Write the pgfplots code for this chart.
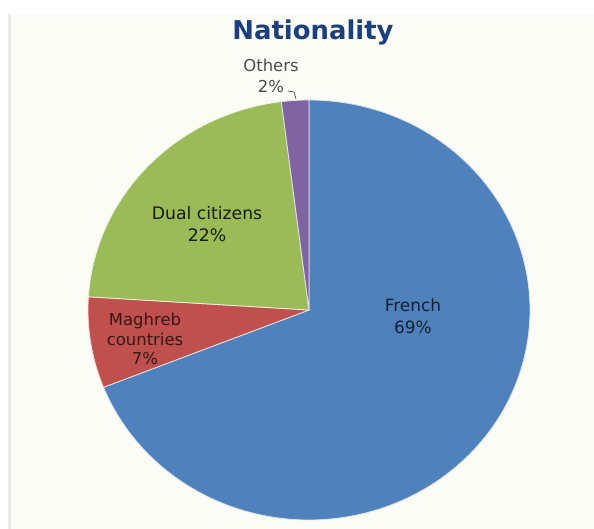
\documentclass[border=0pt]{standalone}
\usepackage{pgfplots}
\pgfplotsset{compat=1.18}
\usepackage{fontspec}
\setmainfont{DejaVu Sans}
\definecolor{cFrench}{HTML}{4F81BD}
\definecolor{cMaghreb}{HTML}{C0504D}
\definecolor{cDual}{HTML}{9BBB59}
\definecolor{cOther}{HTML}{8064A2}
\definecolor{bgc}{HTML}{FCFCF6}
\definecolor{titlec}{HTML}{1C3F7E}
\begin{document}
\begin{tikzpicture}
\begin{axis}[
  scale only axis, width=594bp, height=529bp,
  xmin=0, xmax=594, ymin=0, ymax=529,
  axis lines=none, clip=false,
]
% background (pixel coordinates, y flipped)
\fill[white] (axis cs:0,0) rectangle (axis cs:594,529);
\fill[bgc] (axis cs:10,0) rectangle (axis cs:594,515);
\fill[black!8] (axis cs:8,0) rectangle (axis cs:11,515);
% pie: centre (309,219), radii 221 x 210; shares 69, 7, 22, 2 (%) clockwise from top
\def\cx{309}\def\cy{219}\def\rx{221}\def\ry{210}
\addplot[fill=cFrench, draw=white!80!cFrench, line width=0.8pt, domain={90-69*3.6}:90, samples=150, variable=\t]
  ({\cx+\rx*cos(t)},{\cy+\ry*sin(t)}) -- (axis cs:\cx,\cy) -- cycle;
\addplot[fill=cMaghreb, draw=white!80!cMaghreb, line width=0.8pt, domain={90-76*3.6}:{90-69*3.6}, samples=30, variable=\t]
  ({\cx+\rx*cos(t)},{\cy+\ry*sin(t)}) -- (axis cs:\cx,\cy) -- cycle;
\addplot[fill=cDual, draw=white!80!cDual, line width=0.8pt, domain={90-98*3.6}:{90-76*3.6}, samples=60, variable=\t]
  ({\cx+\rx*cos(t)},{\cy+\ry*sin(t)}) -- (axis cs:\cx,\cy) -- cycle;
\addplot[fill=cOther, draw=white!80!cOther, line width=0.8pt, domain={90-100*3.6}:{90-98*3.6}, samples=10, variable=\t]
  ({\cx+\rx*cos(t)},{\cy+\ry*sin(t)}) -- (axis cs:\cx,\cy) -- cycle;
% leader line for Others
\draw[black!65, line width=0.8pt] (axis cs:288,438) -- (axis cs:294,437) -- (axis cs:296,430);
% labels
\node[font=\bfseries\fontsize{26}{30}\selectfont, text=titlec] at (axis cs:313,497) {Nationality};
\node[font=\fontsize{16.5}{21}\selectfont, text=black!70, align=center] at (axis cs:271,453) {Others\\2\%};
\node[font=\fontsize{17.3}{22}\selectfont, text=black!85!cDual, align=center] at (axis cs:207,305) {Dual citizens\\22\%};
\node[font=\fontsize{16.5}{19.5}\selectfont, text=black!72!cMaghreb, align=center] at (axis cs:145,190) {Maghreb\\countries\\7\%};
\node[font=\fontsize{17}{22}\selectfont, text=black!75!cFrench, align=center] at (axis cs:413,213) {French\\69\%};
\end{axis}
\end{tikzpicture}
\end{document}
